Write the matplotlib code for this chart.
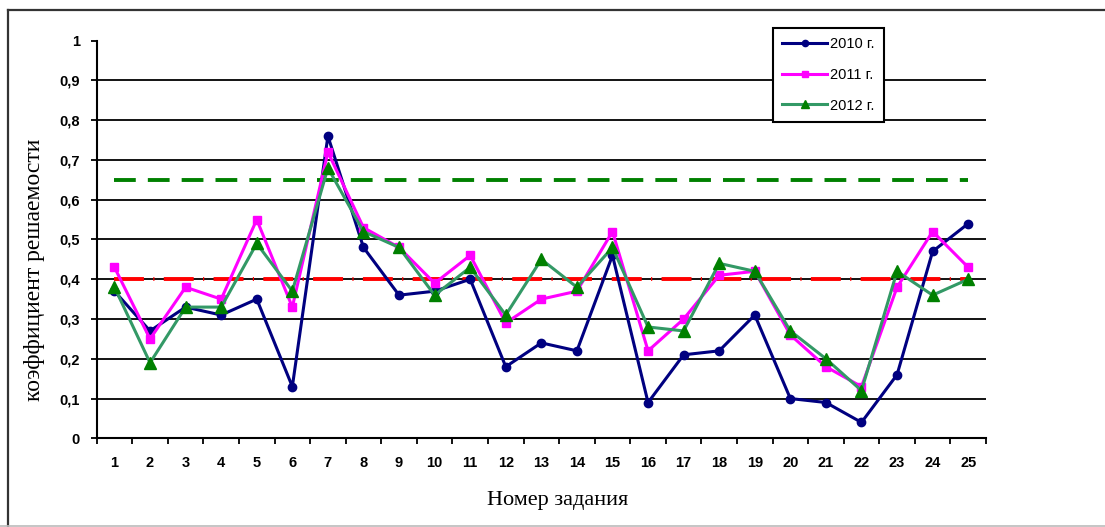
import matplotlib
matplotlib.use('Agg')
import matplotlib.pyplot as plt
from matplotlib.lines import Line2D

# номера заданий и коэффициенты решаемости
tasks = list(range(1, 26))
y2010 = [0.37, 0.27, 0.33, 0.31, 0.35, 0.13, 0.76, 0.48, 0.36, 0.37, 0.40, 0.18, 0.24,
         0.22, 0.46, 0.09, 0.21, 0.22, 0.31, 0.10, 0.09, 0.04, 0.16, 0.47, 0.54]
y2011 = [0.43, 0.25, 0.38, 0.35, 0.55, 0.33, 0.72, 0.53, 0.48, 0.39, 0.46, 0.29, 0.35,
         0.37, 0.52, 0.22, 0.30, 0.41, 0.42, 0.26, 0.18, 0.13, 0.38, 0.52, 0.43]
y2012 = [0.38, 0.19, 0.33, 0.33, 0.49, 0.37, 0.68, 0.52, 0.48, 0.36, 0.43, 0.31, 0.45,
         0.38, 0.48, 0.28, 0.27, 0.44, 0.42, 0.27, 0.20, 0.12, 0.42, 0.36, 0.40]
level_low = 0.4
level_high = 0.65
yticks = [0, 0.1, 0.2, 0.3, 0.4, 0.5, 0.6, 0.7, 0.8, 0.9, 1]
ylabels = ['0', '0,1', '0,2', '0,3', '0,4', '0,5', '0,6', '0,7', '0,8', '0,9', '1']

fig = plt.figure(figsize=(11.05, 5.27), dpi=100)
ax = fig.add_axes([0.0875, 0.1683, 0.8048, 0.7545])

# сетка
for v in yticks[1:-1]:
    ax.axhline(v, color='black', lw=1.3, zorder=1)

# контрольные уровни
ax.plot([tasks[0], tasks[-1]], [level_low] * 2, color='#ff0000', lw=2.8,
        linestyle=(0, (7.7, 2.4, 0.3, 2.4)), zorder=2)
ax.plot([tasks[0], tasks[-1]], [level_high] * 2, color='#008000', lw=2.8,
        linestyle=(0, (5.6, 3.1)), zorder=2)

l1, = ax.plot(tasks, y2010, color='#000080', lw=2.2, marker='o', ms=6,
              mfc='#000080', mec='#000080', zorder=3)
l2, = ax.plot(tasks, y2011, color='#ff00ff', lw=2.2, marker='s', ms=6,
              mfc='#ff00ff', mec='#ff00ff', zorder=4)
l3, = ax.plot(tasks, y2012, color='#339966', lw=2.2, marker='^', ms=8.5,
              mfc='#008000', mec='#008000', zorder=5)

ax.set_xlim(0.5, 25.5)
ax.set_ylim(0, 1)
ax.set_yticks(yticks)
ax.set_yticklabels(ylabels, fontfamily='Liberation Sans', fontweight='bold', fontsize=10.5)
ax.set_xticks(tasks)
ax.set_xticklabels([str(t) for t in tasks], fontfamily='Liberation Sans',
                   fontweight='bold', fontsize=10.5)
ax.set_xticks([t + 0.5 for t in range(0, 26)], minor=True)
ax.tick_params(axis='x', which='major', length=0, pad=13)
ax.tick_params(axis='x', which='minor', length=4, width=1.3, direction='out')
ax.tick_params(axis='y', length=4, width=1.3, direction='out', pad=8)
for s in ['top', 'right']:
    ax.spines[s].set_visible(False)
for s in ['left', 'bottom']:
    ax.spines[s].set_linewidth(1.5)

fig.text(0.505, 0.05, 'Номер задания', ha='center', va='center',
         fontfamily='Liberation Serif', fontsize=16)
fig.text(0.031, 0.488, 'коэффициент решаемости', ha='center', va='center',
         rotation=90, fontfamily='Liberation Serif', fontsize=17)

leg = fig.legend([l1, l2, l3], ['2010 г.', '2011 г.', '2012 г.'],
                 loc='upper left', bbox_to_anchor=(773 / 1105, 1 - 28 / 527),
                 prop={'family': 'Liberation Sans', 'size': 10.5},
                 fancybox=False, framealpha=1, edgecolor='black',
                 handlelength=3.1, handletextpad=0.2, labelspacing=1.15,
                 borderpad=0.62, borderaxespad=0, markerscale=0.75)
leg.get_frame().set_linewidth(1.5)

# рамка вокруг диаграммы
fig.add_artist(Line2D([8 / 1105, 8 / 1105], [0, 1 - 10 / 527], color='#333333', lw=1.6))
fig.add_artist(Line2D([8 / 1105, 1], [1 - 10 / 527, 1 - 10 / 527], color='#333333', lw=1.6))
fig.add_artist(Line2D([0, 1], [1.2 / 527, 1.2 / 527], color='#bbbbbb', lw=1.2))

fig.savefig('out.png', dpi=100)
